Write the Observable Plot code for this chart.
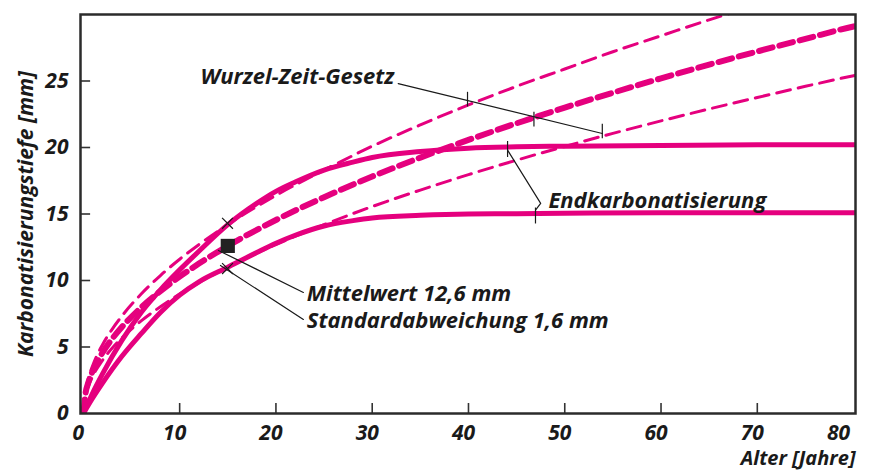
<!DOCTYPE html>
<html>
<head>
<meta charset="utf-8">
<script src="https://cdn.jsdelivr.net/npm/d3@7"></script>
<script src="https://cdn.jsdelivr.net/npm/@observablehq/plot@0.6"></script>
<style>
  html, body { margin: 0; padding: 0; background: #fff; }
  svg { display: block; }
</style>
</head>
<body>
<script>
// Tick labels
const xTicks = [0, 10, 20, 30, 40, 50, 60, 70, 80];
const yTicks = [0, 5, 10, 15, 20, 25];

// Wurzel-Zeit-Gesetz curves (dashed): age [years] and depth [mm]
const sqrtAge   = [0, 0.25, 0.5, 1, 2, 3, 4, 6, 8, 10, 12, 15, 20, 25, 30, 35, 40, 45, 50, 55, 60, 65, 70, 75, 80, 80.2];
const sqrtUpper = [0, 1.83, 2.59, 3.67, 5.19, 6.35, 7.33, 8.98, 10.37, 11.6, 12.7, 14.2, 16.4, 18.3, 20.1, 21.7, 23.2, 24.6, 25.9, 27.2, 28.4, 29.6, 30.7, 31.8, 32.8, 32.85];
const sqrtMean  = [0, 1.63, 2.3, 3.25, 4.6, 5.63, 6.5, 7.97, 9.2, 10.29, 11.27, 12.6, 14.55, 16.26, 17.82, 19.24, 20.57, 21.82, 23.0, 24.12, 25.2, 26.23, 27.22, 28.17, 29.1, 29.13];
const sqrtLower = [0, 1.42, 2.0, 2.84, 4.02, 4.92, 5.68, 6.96, 8.03, 8.98, 9.84, 11.0, 12.7, 14.2, 15.56, 16.8, 17.96, 19.05, 20.08, 21.06, 22.0, 22.9, 23.76, 24.6, 25.4, 25.43];

// Endkarbonatisierung curves (solid)
const endAge   = [0, 1, 2, 4, 6, 8, 10, 12, 15, 18, 20, 22, 25, 28, 30, 35, 40, 45, 50, 60, 70, 80.2];
const endUpper = [0, 1.6, 3.0, 5.5, 7.6, 9.3, 10.8, 12.2, 14.2, 15.8, 16.7, 17.4, 18.3, 18.9, 19.25, 19.7, 19.95, 20.05, 20.1, 20.15, 20.2, 20.2];
const endLower = [0, 1.2, 2.3, 4.3, 6.0, 7.6, 8.9, 9.9, 11.0, 12.1, 12.8, 13.4, 14.1, 14.5, 14.7, 14.9, 15.0, 15.02, 15.05, 15.1, 15.1, 15.1];

// Measured value
const meanAge = [15];
const meanDepth = [12.6];
const sdMarkAge = [14.97, 14.97];
const sdMarkDepth = [14.3, 10.9];

// Annotation texts
const labelWurzel = "Wurzel-Zeit-Gesetz";
const labelEnd = "Endkarbonatisierung";
const labelMean = "Mittelwert 12,6 mm";
const labelSd = "Standardabweichung 1,6 mm";
const labelY = "Karbonatisierungstiefe [mm]";
const labelX = "Alter [Jahre]";

// leader geometry (data units)
const wurzelLeaderAge = [32.7, 53.9];
const wurzelLeaderDepth = [24.8, 21.05];
const wurzelTickAge = [39.9, 46.8, 53.9];
const wurzelTickDepth = [23.6, 22.1, 21.2];
const endLeaderAge = [44.06, 47.5, 46.96];
const endLeaderDepth = [19.8, 15.8, 15.3];
const endTickAge = [44.06, 46.96];
const endTickDepth = [19.85, 14.85];
const meanLeaderAge = [14.03, 22.85];
const meanLeaderDepth = [12.26, 9.1];
const sdLeaderAge = [14.24, 22.85];
const sdLeaderDepth = [11.13, 7.07];

const zip = (a, b) => a.map((v, i) => ({x: v, y: b[i]}));

const MAG = "#e5007e";
const INK = "#1a1a1a";
const FONT = "'Open Sans', 'Noto Sans', 'DejaVu Sans', sans-serif";
const txt = {fontSize: 21, fontWeight: 700, fontStyle: "italic", fill: INK};
const ann = {fontSize: 22, fontWeight: 700, fontStyle: "italic", fill: INK};

const chart = Plot.plot({
  width: 869,
  height: 472,
  marginLeft: 80,
  marginRight: 14,
  marginTop: 14,
  marginBottom: 59,
  style: {fontFamily: FONT, background: "#fff", overflow: "visible"},
  x: {domain: [-0.3, 80.2], axis: null},
  y: {domain: [0, 30], axis: null},
  marks: [
    // ticks inside the frame
    Plot.ruleX(xTicks.filter(d => d > 0 && d < 80), {x: d => d, y1: 0, y2: 0.75, stroke: "#333", strokeWidth: 1.6}),
    Plot.ruleY(yTicks.filter(d => d > 0), {y: d => d, x1: -0.3, x2: 0.75, stroke: "#333", strokeWidth: 1.6}),
    // solid curves
    Plot.line(zip(endAge, endUpper), {x: "x", y: "y", curve: "monotone-x", stroke: MAG, strokeWidth: 5, clip: true}),
    Plot.line(zip(endAge, endLower), {x: "x", y: "y", curve: "monotone-x", stroke: MAG, strokeWidth: 5, clip: true}),
    // dashed square-root curves
    Plot.line(zip(sqrtAge, sqrtUpper), {x: "x", y: "y", curve: "monotone-x", stroke: MAG, strokeWidth: 3, strokeDasharray: "14,8", clip: true}),
    Plot.line(zip(sqrtAge, sqrtLower), {x: "x", y: "y", curve: "monotone-x", stroke: MAG, strokeWidth: 3, strokeDasharray: "14,8", clip: true}),
    Plot.line(zip(sqrtAge, sqrtMean), {x: "x", y: "y", curve: "monotone-x", stroke: MAG, strokeWidth: 6, strokeDasharray: "14,7", clip: true}),
    // leaders
    Plot.line(zip(wurzelLeaderAge, wurzelLeaderDepth), {x: "x", y: "y", stroke: INK, strokeWidth: 1.2}),
    Plot.ruleX(zip(wurzelTickAge, wurzelTickDepth), {x: "x", y1: d => d.y - 0.55, y2: d => d.y + 0.55, stroke: INK, strokeWidth: 1.2}),
    Plot.line(zip(endLeaderAge, endLeaderDepth), {x: "x", y: "y", stroke: INK, strokeWidth: 1.2}),
    Plot.ruleX(zip(endTickAge, endTickDepth), {x: "x", y1: d => d.y - 0.6, y2: d => d.y + 0.6, stroke: INK, strokeWidth: 1.2}),
    Plot.line(zip(meanLeaderAge, meanLeaderDepth), {x: "x", y: "y", stroke: INK, strokeWidth: 1.2}),
    Plot.line(zip(sdLeaderAge, sdLeaderDepth), {x: "x", y: "y", stroke: INK, strokeWidth: 1.2}),
    // marks
    Plot.dot(zip(sdMarkAge, sdMarkDepth), {x: "x", y: "y", symbol: "times", r: 5, stroke: INK, strokeWidth: 1.2}),
    Plot.dot(zip(meanAge, meanDepth), {x: "x", y: "y", symbol: "square", r: 8, fill: "#222", stroke: "none"}),
    // frame
    Plot.frame({stroke: "#2b2b2b", strokeWidth: 2.5}),
    // tick labels
    Plot.text(xTicks.filter(d => d < 80), {x: d => d, text: d => String(d), frameAnchor: "bottom", dy: 20, dx: -5, lineAnchor: "middle", ...txt}),
    Plot.text(xTicks.filter(d => d === 80), {x: d => d, text: d => String(d), frameAnchor: "bottom", dy: 20, dx: -15, lineAnchor: "middle", ...txt}),
    Plot.text(yTicks, {y: d => d, text: d => String(d), frameAnchor: "left", dx: -12, textAnchor: "end", lineAnchor: "middle", ...txt}),
    // annotation texts
    Plot.text([labelWurzel], {x: 12.16, y: 25.3, text: d => d, textAnchor: "start", lineAnchor: "middle", ...ann}),
    Plot.text([labelEnd], {x: 48.3, y: 15.95, text: d => d, textAnchor: "start", lineAnchor: "middle", ...ann}),
    Plot.text([labelMean], {x: 23.2, y: 9.0, text: d => d, textAnchor: "start", lineAnchor: "middle", ...ann}),
    Plot.text([labelSd], {x: 23.2, y: 6.95, text: d => d, textAnchor: "start", lineAnchor: "middle", ...ann}),
    // axis titles
    Plot.text([labelY], {text: d => d, frameAnchor: "left", dx: -54, rotate: -90, textAnchor: "middle", lineAnchor: "middle", ...txt}),
    Plot.text([labelX], {text: d => d, frameAnchor: "bottom-right", dy: 45, textAnchor: "end", lineAnchor: "middle", ...txt, fontSize: 20})
  ]
});
document.body.appendChild(chart);
</script>
</body>
</html>
